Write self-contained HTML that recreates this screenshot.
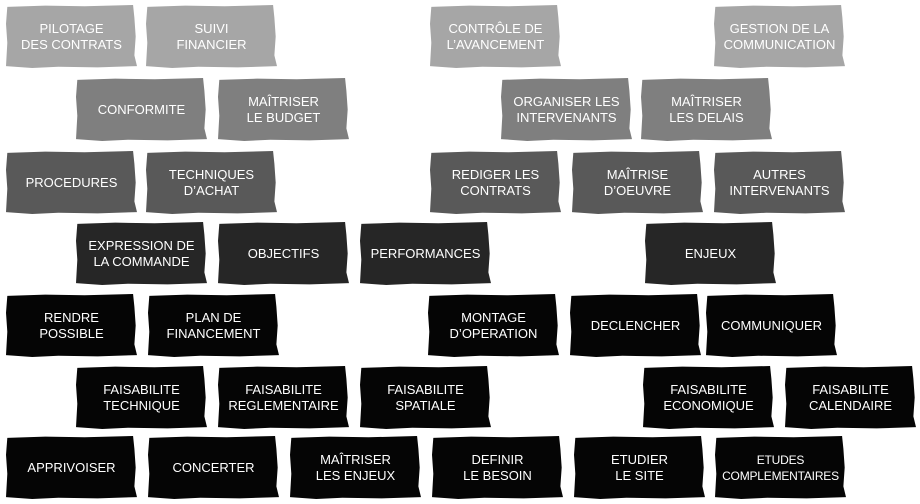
<!DOCTYPE html>
<html><head><meta charset="utf-8"><style>
html,body{margin:0;padding:0;background:#fff;width:920px;height:504px;overflow:hidden}
.b{position:absolute;width:131px;height:63px;display:flex;align-items:center;justify-content:center;text-align:center;color:#fff;font-family:"Liberation Sans",sans-serif;font-size:13px;line-height:16px;
clip-path:polygon(1% 3%,30% 1%,60% 2%,97% 0%,98% 20%,99% 50%,98% 80%,100% 97%,70% 99%,40% 98%,20% 100%,0% 97%,1% 60%,0% 30%)}
.r1{background:#a6a6a6}.r2{background:#7f7f7f}.r3{background:#595959}.r4{background:#262626}.r5{background:#050505}
</style></head><body>
<div class="b r1" style="left:6px;top:5px">PILOTAGE<br>DES CONTRATS</div>
<div class="b r1" style="left:146px;top:5px">SUIVI<br>FINANCIER</div>
<div class="b r1" style="left:430px;top:5px">CONTRÔLE DE<br>L’AVANCEMENT</div>
<div class="b r1" style="left:714px;top:5px">GESTION DE LA<br>COMMUNICATION</div>

<div class="b r2" style="left:76px;top:78px">CONFORMITE</div>
<div class="b r2" style="left:218px;top:78px">MAÎTRISER<br>LE BUDGET</div>
<div class="b r2" style="left:501px;top:78px">ORGANISER LES<br>INTERVENANTS</div>
<div class="b r2" style="left:641px;top:78px">MAÎTRISER<br>LES DELAIS</div>

<div class="b r3" style="left:6px;top:151px">PROCEDURES</div>
<div class="b r3" style="left:146px;top:151px">TECHNIQUES<br>D’ACHAT</div>
<div class="b r3" style="left:430px;top:151px">REDIGER LES<br>CONTRATS</div>
<div class="b r3" style="left:572px;top:151px">MAÎTRISE<br>D’OEUVRE</div>
<div class="b r3" style="left:714px;top:151px">AUTRES<br>INTERVENANTS</div>

<div class="b r4" style="left:76px;top:222px">EXPRESSION DE<br>LA COMMANDE</div>
<div class="b r4" style="left:218px;top:222px">OBJECTIFS</div>
<div class="b r4" style="left:360px;top:222px">PERFORMANCES</div>
<div class="b r4" style="left:645px;top:222px">ENJEUX</div>

<div class="b r5" style="left:6px;top:294px">RENDRE<br>POSSIBLE</div>
<div class="b r5" style="left:148px;top:294px">PLAN DE<br>FINANCEMENT</div>
<div class="b r5" style="left:428px;top:294px">MONTAGE<br>D’OPERATION</div>
<div class="b r5" style="left:570px;top:294px">DECLENCHER</div>
<div class="b r5" style="left:706px;top:294px">COMMUNIQUER</div>

<div class="b r5" style="left:76px;top:366px">FAISABILITE<br>TECHNIQUE</div>
<div class="b r5" style="left:218px;top:366px">FAISABILITE<br>REGLEMENTAIRE</div>
<div class="b r5" style="left:360px;top:366px">FAISABILITE<br>SPATIALE</div>
<div class="b r5" style="left:643px;top:366px">FAISABILITE<br>ECONOMIQUE</div>
<div class="b r5" style="left:785px;top:366px">FAISABILITE<br>CALENDAIRE</div>

<div class="b r5" style="left:6px;top:436px">APPRIVOISER</div>
<div class="b r5" style="left:148px;top:436px">CONCERTER</div>
<div class="b r5" style="left:290px;top:436px">MAÎTRISER<br>LES ENJEUX</div>
<div class="b r5" style="left:432px;top:436px">DEFINIR<br>LE BESOIN</div>
<div class="b r5" style="left:574px;top:436px">ETUDIER<br>LE SITE</div>
<div class="b r5" style="left:715px;top:436px;font-size:12px;letter-spacing:-0.2px">ETUDES<br>COMPLEMENTAIRES</div>
</body></html>
